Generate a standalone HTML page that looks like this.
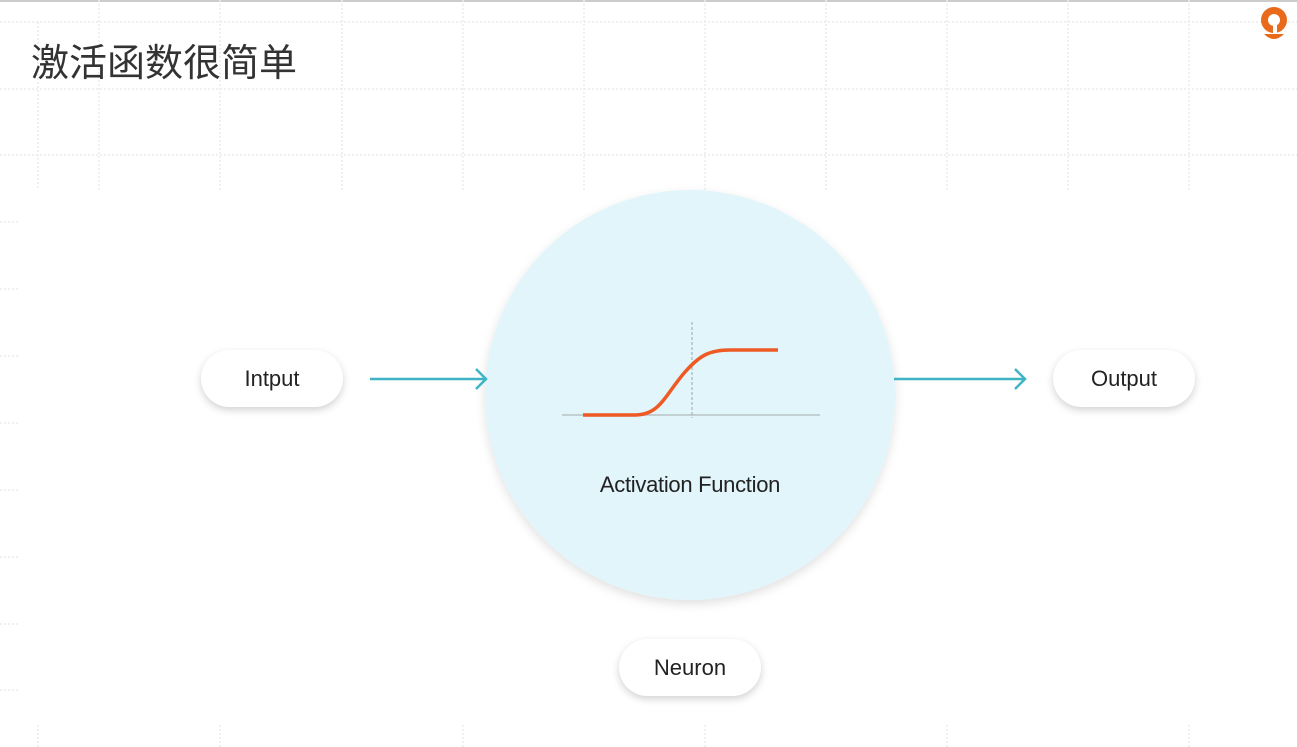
<!DOCTYPE html>
<html><head><meta charset="utf-8"><style>
body{margin:0;width:1297px;height:747px;background:#fff;position:relative;overflow:hidden;font-family:"Liberation Sans","Noto Sans CJK SC",sans-serif}
.pill{position:absolute;width:142px;height:57px;border-radius:29px;background:#fff;box-shadow:0 3px 8px rgba(0,0,0,0.18);display:flex;align-items:center;justify-content:center;font-size:22px;color:#222}
</style></head><body>
<svg width="1297" height="747" style="position:absolute;left:0;top:0">
<line x1="0" y1="1" x2="1297" y2="1" stroke="#ccc" stroke-width="2"/>
<g stroke="#ececec" stroke-width="1.5" stroke-dasharray="2,2">
<line x1="0" y1="22" x2="1297" y2="22"/><line x1="0" y1="89" x2="1297" y2="89"/><line x1="0" y1="155" x2="1297" y2="155"/>
<line x1="38" y1="22" x2="38" y2="190"/><line x1="99" y1="0" x2="99" y2="190"/><line x1="220" y1="0" x2="220" y2="190"/><line x1="342" y1="0" x2="342" y2="190"/><line x1="463" y1="0" x2="463" y2="190"/><line x1="584" y1="0" x2="584" y2="190"/><line x1="705" y1="0" x2="705" y2="190"/><line x1="826" y1="0" x2="826" y2="190"/><line x1="947" y1="0" x2="947" y2="190"/><line x1="1068" y1="0" x2="1068" y2="190"/><line x1="1189" y1="0" x2="1189" y2="190"/>
<line x1="0" y1="222" x2="20" y2="222"/><line x1="0" y1="289" x2="20" y2="289"/><line x1="0" y1="356" x2="20" y2="356"/><line x1="0" y1="423" x2="20" y2="423"/><line x1="0" y1="490" x2="20" y2="490"/><line x1="0" y1="557" x2="20" y2="557"/><line x1="0" y1="624" x2="20" y2="624"/><line x1="0" y1="690" x2="20" y2="690"/>
<line x1="38" y1="725" x2="38" y2="747"/><line x1="220" y1="725" x2="220" y2="747"/><line x1="463" y1="725" x2="463" y2="747"/><line x1="705" y1="725" x2="705" y2="747"/><line x1="947" y1="725" x2="947" y2="747"/><line x1="1189" y1="725" x2="1189" y2="747"/>
</g>
<defs><filter id="s" x="-20%" y="-20%" width="140%" height="140%"><feDropShadow dx="0" dy="4" stdDeviation="5" flood-color="#000" flood-opacity="0.12"/></filter></defs>
<circle cx="690" cy="395" r="205" fill="#e1f5fa" filter="url(#s)"/>
<line x1="562" y1="415" x2="820" y2="415" stroke="#b8c4c6" stroke-width="1.5"/>
<line x1="692" y1="322" x2="692" y2="418" stroke="#a0a8aa" stroke-width="1" stroke-dasharray="3,2"/>
<path d="M583 415 L635 415 C660 415 665 395 685 372 C700 355 710 350 730 350 L778 350" fill="none" stroke="#ee5a24" stroke-width="3.5"/>
<g stroke="#3fb4c4" stroke-width="2.5" fill="none">
<line x1="370" y1="379" x2="486" y2="379"/><polyline points="476,369 486,379 476,389"/>
<line x1="894" y1="379" x2="1025" y2="379"/><polyline points="1015,369 1025,379 1015,389"/>
</g>
<circle cx="1274" cy="20" r="13" fill="#ea6a1c"/><circle cx="1274" cy="20" r="6" fill="#fff"/>
<path d="M1264 34 Q1274 44 1284 34 Z" fill="#ea6a1c"/><rect x="1273" y="20" width="4" height="14" fill="#fff"/>
</svg>
<div style="position:absolute;left:31px;top:36px;font-size:38px;color:#333;font-family:'Noto Sans CJK SC',sans-serif;line-height:48px">激活函数很简单</div>
<div style="position:absolute;left:540px;top:472px;width:300px;text-align:center;font-size:22px;color:#222;letter-spacing:-0.3px">Activation Function</div>
<div class="pill" style="left:201px;top:350px">Intput</div>
<div class="pill" style="left:1053px;top:350px">Output</div>
<div class="pill" style="left:619px;top:639px">Neuron</div>
</body></html>
